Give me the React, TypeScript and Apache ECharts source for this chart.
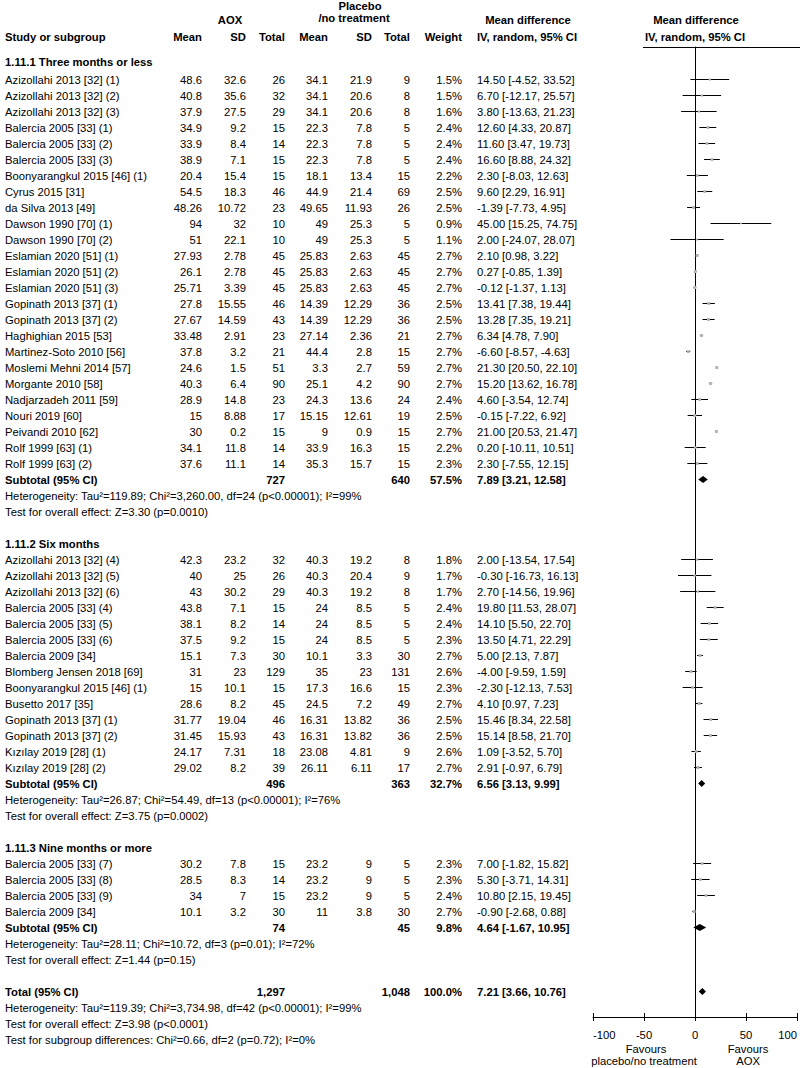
import React, { useEffect, useRef } from 'react';
import * as echarts from 'echarts';

const FONT = "'Liberation Sans', Arial, Helvetica, sans-serif";
const FS = 11.25;

const groupTitles = ['1.11.1 Three months or less', '1.11.2 Six months', '1.11.3 Nine months or more'];
const groupSizes = [25, 14, 4];

const studyNames = [
  'Azizollahi 2013 [32] (1)', 'Azizollahi 2013 [32] (2)', 'Azizollahi 2013 [32] (3)',
  'Balercia 2005 [33] (1)', 'Balercia 2005 [33] (2)', 'Balercia 2005 [33] (3)',
  'Boonyarangkul 2015 [46] (1)', 'Cyrus 2015 [31]', 'da Silva 2013 [49]',
  'Dawson 1990 [70] (1)', 'Dawson 1990 [70] (2)',
  'Eslamian 2020 [51] (1)', 'Eslamian 2020 [51] (2)', 'Eslamian 2020 [51] (3)',
  'Gopinath 2013 [37] (1)', 'Gopinath 2013 [37] (2)', 'Haghighian 2015 [53]',
  'Martinez-Soto 2010 [56]', 'Moslemi Mehni 2014 [57]', 'Morgante 2010 [58]',
  'Nadjarzadeh 2011 [59]', 'Nouri 2019 [60]', 'Peivandi 2010 [62]',
  'Rolf 1999 [63] (1)', 'Rolf 1999 [63] (2)',
  'Azizollahi 2013 [32] (4)', 'Azizollahi 2013 [32] (5)', 'Azizollahi 2013 [32] (6)',
  'Balercia 2005 [33] (4)', 'Balercia 2005 [33] (5)', 'Balercia 2005 [33] (6)',
  'Balercia 2009 [34]', 'Blomberg Jensen 2018 [69]', 'Boonyarangkul 2015 [46] (1)',
  'Busetto 2017 [35]', 'Gopinath 2013 [37] (1)', 'Gopinath 2013 [37] (2)',
  'Kızılay 2019 [28] (1)', 'Kızılay 2019 [28] (2)',
  'Balercia 2005 [33] (7)', 'Balercia 2005 [33] (8)', 'Balercia 2005 [33] (9)', 'Balercia 2009 [34]',
];

const aoxMean = [48.6, 40.8, 37.9, 34.9, 33.9, 38.9, 20.4, 54.5, 48.26, 94, 51, 27.93, 26.1, 25.71, 27.8, 27.67, 33.48, 37.8, 24.6, 40.3, 28.9, 15, 30, 34.1, 37.6,
  42.3, 40, 43, 43.8, 38.1, 37.5, 15.1, 31, 15, 28.6, 31.77, 31.45, 24.17, 29.02,
  30.2, 28.5, 34, 10.1];
const aoxSD = [32.6, 35.6, 27.5, 9.2, 8.4, 7.1, 15.4, 18.3, 10.72, 32, 22.1, 2.78, 2.78, 3.39, 15.55, 14.59, 2.91, 3.2, 1.5, 6.4, 14.8, 8.88, 0.2, 11.8, 11.1,
  23.2, 25, 30.2, 7.1, 8.2, 9.2, 7.3, 23, 10.1, 8.2, 19.04, 15.93, 7.31, 8.2,
  7.8, 8.3, 7, 3.2];
const aoxTotal = [26, 32, 29, 15, 14, 15, 15, 46, 23, 10, 10, 45, 45, 45, 46, 43, 23, 21, 51, 90, 23, 17, 15, 14, 14,
  32, 26, 29, 15, 14, 15, 30, 129, 15, 45, 46, 43, 18, 39,
  15, 14, 15, 30];
const plMean = [34.1, 34.1, 34.1, 22.3, 22.3, 22.3, 18.1, 44.9, 49.65, 49, 49, 25.83, 25.83, 25.83, 14.39, 14.39, 27.14, 44.4, 3.3, 25.1, 24.3, 15.15, 9, 33.9, 35.3,
  40.3, 40.3, 40.3, 24, 24, 24, 10.1, 35, 17.3, 24.5, 16.31, 16.31, 23.08, 26.11,
  23.2, 23.2, 23.2, 11];
const plSD = [21.9, 20.6, 20.6, 7.8, 7.8, 7.8, 13.4, 21.4, 11.93, 25.3, 25.3, 2.63, 2.63, 2.63, 12.29, 12.29, 2.36, 2.8, 2.7, 4.2, 13.6, 12.61, 0.9, 16.3, 15.7,
  19.2, 20.4, 19.2, 8.5, 8.5, 8.5, 3.3, 23, 16.6, 7.2, 13.82, 13.82, 4.81, 6.11,
  9, 9, 9, 3.8];
const plTotal = [9, 8, 8, 5, 5, 5, 15, 69, 26, 5, 5, 45, 45, 45, 36, 36, 21, 15, 59, 90, 24, 19, 15, 15, 15,
  8, 9, 8, 5, 5, 5, 30, 131, 15, 49, 36, 36, 9, 17,
  5, 5, 5, 30];
const weights = [1.5, 1.5, 1.6, 2.4, 2.4, 2.4, 2.2, 2.5, 2.5, 0.9, 1.1, 2.7, 2.7, 2.7, 2.5, 2.5, 2.7, 2.7, 2.7, 2.7, 2.4, 2.5, 2.7, 2.2, 2.3,
  1.8, 1.7, 1.7, 2.4, 2.4, 2.3, 2.7, 2.6, 2.3, 2.7, 2.5, 2.5, 2.6, 2.7,
  2.3, 2.3, 2.4, 2.7];
const meanDiff = [14.5, 6.7, 3.8, 12.6, 11.6, 16.6, 2.3, 9.6, -1.39, 45, 2, 2.1, 0.27, -0.12, 13.41, 13.28, 6.34, -6.6, 21.3, 15.2, 4.6, -0.15, 21, 0.2, 2.3,
  2, -0.3, 2.7, 19.8, 14.1, 13.5, 5, -4, -2.3, 4.1, 15.46, 15.14, 1.09, 2.91,
  7, 5.3, 10.8, -0.9];
const ciLow = [-4.52, -12.17, -13.63, 4.33, 3.47, 8.88, -8.03, 2.29, -7.73, 15.25, -24.07, 0.98, -0.85, -1.37, 7.38, 7.35, 4.78, -8.57, 20.5, 13.62, -3.54, -7.22, 20.53, -10.11, -7.55,
  -13.54, -16.73, -14.56, 11.53, 5.5, 4.71, 2.13, -9.59, -12.13, 0.97, 8.34, 8.58, -3.52, -0.97,
  -1.82, -3.71, 2.15, -2.68];
const ciHigh = [33.52, 25.57, 21.23, 20.87, 19.73, 24.32, 12.63, 16.91, 4.95, 74.75, 28.07, 3.22, 1.39, 1.13, 19.44, 19.21, 7.9, -4.63, 22.1, 16.78, 12.74, 6.92, 21.47, 10.51, 12.15,
  17.54, 16.13, 19.96, 28.07, 22.7, 22.29, 7.87, 1.59, 7.53, 7.23, 22.58, 21.7, 5.7, 6.79,
  15.82, 14.31, 19.45, 0.88];

const subAoxTotal = ['727', '496', '74'];
const subPlTotal = ['640', '363', '45'];
const subWeight = ['57.5%', '32.7%', '9.8%'];
const subMD = [7.89, 6.56, 4.64];
const subLow = [3.21, 3.13, -1.67];
const subHigh = [12.58, 9.99, 10.95];
const subHetero = [
  'Heterogeneity: Tau²=119.89; Chi²=3,260.00, df=24 (p<0.00001); I²=99%',
  'Heterogeneity: Tau²=26.87; Chi²=54.49, df=13 (p<0.00001); I²=76%',
  'Heterogeneity: Tau²=28.11; Chi²=10.72, df=3 (p=0.01); I²=72%',
];
const subEffect = [
  'Test for overall effect: Z=3.30 (p=0.0010)',
  'Test for overall effect: Z=3.75 (p=0.0002)',
  'Test for overall effect: Z=1.44 (p=0.15)',
];

const totalRow = { aox: '1,297', pl: '1,048', weight: '100.0%', md: 7.21, lo: 3.66, hi: 10.76 };
const totalNotes = [
  'Heterogeneity: Tau²=119.39; Chi²=3,734.98, df=42 (p<0.00001); I²=99%',
  'Test for overall effect: Z=3.98 (p<0.0001)',
  'Test for subgroup differences: Chi²=0.66, df=2 (p=0.72); I²=0%',
];

const xTicks = [-100, -50, 0, 50, 100];

type Row = {
  pos: number;
  kind: 'heading' | 'study' | 'sub' | 'text';
  text?: string;
  i?: number;
  aox?: string; pl?: string; w?: string; md?: number; lo?: number; hi?: number;
};

function buildRows(): Row[] {
  const rows: Row[] = [];
  let cursor = -1;
  let s = 0;
  groupSizes.forEach((n, g) => {
    rows.push({ pos: g === 0 ? cursor - 0.1 : cursor, kind: 'heading', text: groupTitles[g] });
    cursor++;
    for (let k = 0; k < n; k++) rows.push({ pos: cursor++, kind: 'study', i: s++ });
    rows.push({ pos: cursor++, kind: 'sub', text: 'Subtotal (95% CI)', aox: subAoxTotal[g], pl: subPlTotal[g], w: subWeight[g], md: subMD[g], lo: subLow[g], hi: subHigh[g] });
    rows.push({ pos: cursor++, kind: 'text', text: subHetero[g] });
    rows.push({ pos: cursor++, kind: 'text', text: subEffect[g] });
    cursor++;
  });
  rows.push({ pos: cursor++, kind: 'sub', text: 'Total (95% CI)', aox: totalRow.aox, pl: totalRow.pl, w: totalRow.weight, md: totalRow.md, lo: totalRow.lo, hi: totalRow.hi });
  totalNotes.forEach((t) => rows.push({ pos: cursor++, kind: 'text', text: t }));
  return rows;
}

const COL = { name: 5, aMean: 202, aSD: 246, aTot: 285, pMean: 328, pSD: 372, pTot: 410, weight: 462, ci: 477 };

function txt(text: string, x: number, y: number, align: string, bold = false) {
  return {
    type: 'text',
    x, y,
    silent: true,
    style: {
      text,
      fill: '#000',
      fontSize: FS,
      fontFamily: FONT,
      fontWeight: bold ? 'bold' : 'normal',
      textAlign: align,
      textVerticalAlign: 'middle',
      align,
      verticalAlign: 'middle',
    },
  };
}

const fmtCI = (md: number, lo: number, hi: number) => `${md.toFixed(2)} [${lo.toFixed(2)}, ${hi.toFixed(2)}]`;

export default function App() {
  const ref = useRef<HTMLDivElement>(null);
  useEffect(() => {
    document.body.style.margin = '0';
    const chart = echarts.init(ref.current!, undefined, { renderer: 'svg' });
    const rows = buildRows();

    const renderItem = (params: any, api: any) => {
      const row = rows[params.dataIndex];
      const y = api.coord([0, row.pos])[1];
      const children: any[] = [];
      if (row.kind === 'heading') {
        children.push(txt(row.text!, COL.name, y, 'left', true));
      } else if (row.kind === 'text') {
        children.push(txt(row.text!, COL.name, y, 'left'));
      } else if (row.kind === 'study') {
        const i = row.i!;
        children.push(txt(studyNames[i], COL.name, y, 'left'));
        children.push(txt(String(aoxMean[i]), COL.aMean, y, 'right'));
        children.push(txt(String(aoxSD[i]), COL.aSD, y, 'right'));
        children.push(txt(String(aoxTotal[i]), COL.aTot, y, 'right'));
        children.push(txt(String(plMean[i]), COL.pMean, y, 'right'));
        children.push(txt(String(plSD[i]), COL.pSD, y, 'right'));
        children.push(txt(String(plTotal[i]), COL.pTot, y, 'right'));
        children.push(txt(weights[i].toFixed(1) + '%', COL.weight, y, 'right'));
        children.push(txt(fmtCI(meanDiff[i], ciLow[i], ciHigh[i]), COL.ci, y, 'left'));
        const x1 = api.coord([ciLow[i], row.pos])[0];
        const x2 = api.coord([ciHigh[i], row.pos])[0];
        const xm = api.coord([meanDiff[i], row.pos])[0];
        const side = Math.sqrt(weights[i]) * 1.8;
        children.push({ type: 'line', silent: true, shape: { x1, y1: y, x2, y2: y }, style: { stroke: '#000', lineWidth: 1 } });
        children.push({ type: 'rect', silent: true, shape: { x: xm - side / 2, y: y - side / 2, width: side, height: side }, style: { fill: '#b4b4b4' } });
      } else if (row.kind === 'sub') {
        children.push(txt(row.text!, COL.name, y, 'left', true));
        children.push(txt(row.aox!, COL.aTot, y, 'right', true));
        children.push(txt(row.pl!, COL.pTot, y, 'right', true));
        children.push(txt(row.w!, COL.weight, y, 'right', true));
        children.push(txt(fmtCI(row.md!, row.lo!, row.hi!), COL.ci, y, 'left', true));
        const xl = api.coord([row.lo!, row.pos])[0];
        const xh = api.coord([row.hi!, row.pos])[0];
        const xm = api.coord([row.md!, row.pos])[0];
        const h = 3.5;
        children.push({ type: 'polygon', silent: true, shape: { points: [[xl, y], [xm, y - h], [xh, y], [xm, y + h]] }, style: { fill: '#000' } });
      }
      return { type: 'group', children };
    };

    const headerY1 = 37;
    const graphic: any[] = [
      txt('AOX', 230, 20, 'center', true),
      txt('Placebo', 360, 6, 'center', true),
      txt('/no treatment', 354, 18, 'center', true),
      txt('Mean difference', 528, 20, 'center', true),
      txt('Mean difference', 696, 20, 'center', true),
      txt('Study or subgroup', COL.name, headerY1, 'left', true),
      txt('Mean', COL.aMean, headerY1, 'right', true),
      txt('SD', COL.aSD, headerY1, 'right', true),
      txt('Total', COL.aTot, headerY1, 'right', true),
      txt('Mean', COL.pMean, headerY1, 'right', true),
      txt('SD', COL.pSD, headerY1, 'right', true),
      txt('Total', COL.pTot, headerY1, 'right', true),
      txt('Weight', COL.weight, headerY1, 'right', true),
      txt('IV, random, 95% CI', 527, headerY1, 'center', true),
      txt('IV, random, 95% CI', 695, headerY1, 'center', true),
      txt('Favours', 646, 1049, 'center'),
      txt('placebo/no treatment', 644, 1061, 'center'),
      txt('Favours', 748, 1049, 'center'),
      txt('AOX', 748, 1061, 'center'),
      { type: 'line', silent: true, shape: { x1: 643, y1: 47.5, x2: 800, y2: 47.5 }, style: { stroke: '#000', lineWidth: 1 } },
    ];

    const yMin = -2.03125;
    const option: any = {
      animation: false,
      backgroundColor: '#fff',
      textStyle: { fontFamily: FONT },
      grid: { left: 593, right: 1, top: 47, bottom: 51, containLabel: false },
      xAxis: [
        {
          type: 'value', min: xTicks[0], max: xTicks[xTicks.length - 1], interval: 50, position: 'bottom',
          axisLine: { show: true, onZero: false, lineStyle: { color: '#000', width: 1 } },
          axisTick: { show: true, inside: false, length: 4, lineStyle: { color: '#000' } },
          axisLabel: { show: true, color: '#000', fontSize: FS, fontFamily: FONT, margin: 12, alignMinLabel: 'left', alignMaxLabel: 'right' },
          splitLine: { show: false },
        },
        {
          type: 'value', min: xTicks[0], max: xTicks[xTicks.length - 1], interval: 50, position: 'bottom', offset: 0,
          axisLine: { show: false, onZero: false },
          axisTick: { show: true, inside: true, length: 4, lineStyle: { color: '#000' } },
          axisLabel: { show: false },
          splitLine: { show: false },
        },
      ],
      yAxis: {
        type: 'value', inverse: true, min: yMin, max: yMin + 970 / 16,
        axisLine: { show: true, onZero: true, lineStyle: { color: '#000', width: 1 } },
        axisTick: { show: false }, axisLabel: { show: false }, splitLine: { show: false },
      },
      series: [
        {
          type: 'custom',
          coordinateSystem: 'cartesian2d',
          xAxisIndex: 0,
          yAxisIndex: 0,
          clip: false,
          silent: true,
          renderItem,
          encode: { x: 0, y: 1 },
          data: rows.map((r) => [r.md ?? (r.i !== undefined ? meanDiff[r.i] : 0), r.pos]),
        },
      ],
      graphic,
    };
    chart.setOption(option);
    return () => chart.dispose();
  }, []);
  return <div ref={ref} style={{ width: 800, height: 1068 }} />;
}
